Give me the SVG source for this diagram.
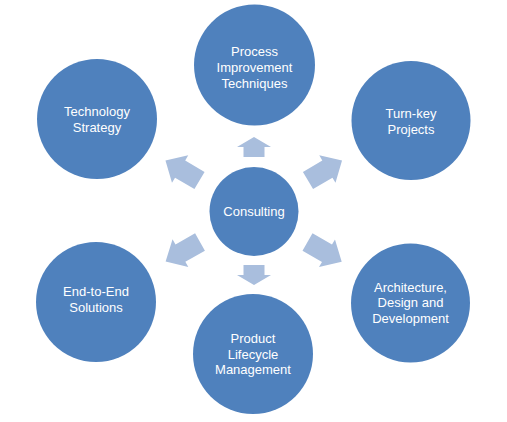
<svg xmlns="http://www.w3.org/2000/svg" width="507" height="422" viewBox="0 0 507 422">
<style>
.node{fill:#4F81BD}
.lbl{fill:#FFFFFF;font-family:"Liberation Sans",Arial,sans-serif;font-size:13px;text-anchor:middle}
.arr{fill:#A9BEDD}
</style>
<defs>
<path id="diag" d="M0,-10 L22.5,-10 L22.5,-16 L39.5,0 L22.5,16 L22.5,10 L0,10 Z"/>
<path id="vert" d="M-10.5,0 L-10.5,-10 L-17,-10 L0,-20 L17,-10 L10.5,-10 L10.5,0 Z"/>
</defs>
<rect width="507" height="422" fill="#FFFFFF"/>
<g id="connectors">
<use href="#vert" class="arr" transform="translate(254,157)"/>
<use href="#vert" class="arr" transform="translate(254,265) rotate(180)"/>
<use href="#diag" class="arr" transform="translate(308,180.5) rotate(-30.5)"/>
<use href="#diag" class="arr" transform="translate(199.5,180.5) rotate(-149.5)"/>
<use href="#diag" class="arr" transform="translate(200,242) rotate(150.5)"/>
<use href="#diag" class="arr" transform="translate(307.5,242) rotate(30)"/>
</g>
<g id="consulting">
<circle class="node" cx="254" cy="211.5" r="44.5"/>
<text class="lbl" x="254" y="216">Consulting</text>
</g>
<g id="process">
<circle class="node" cx="254.5" cy="65" r="60.5"/>
<text class="lbl" x="254.5" y="56">Process</text>
<text class="lbl" x="254.5" y="72">Improvement</text>
<text class="lbl" x="254.5" y="87.5">Techniques</text>
</g>
<g id="turnkey">
<circle class="node" cx="411" cy="120.5" r="59.5"/>
<text class="lbl" x="411" y="118">Turn-key</text>
<text class="lbl" x="411" y="133.5">Projects</text>
</g>
<g id="architecture">
<circle class="node" cx="410.5" cy="303" r="59.5"/>
<text class="lbl" x="410.5" y="291.5">Architecture,</text>
<text class="lbl" x="410.5" y="307">Design and</text>
<text class="lbl" x="410.5" y="322.5">Development</text>
</g>
<g id="product">
<circle class="node" cx="253" cy="354" r="60"/>
<text class="lbl" x="253" y="343">Product</text>
<text class="lbl" x="253" y="358.5">Lifecycle</text>
<text class="lbl" x="253" y="374">Management</text>
</g>
<g id="endtoend">
<circle class="node" cx="96" cy="302" r="60"/>
<text class="lbl" x="96" y="296">End-to-End</text>
<text class="lbl" x="96" y="311.5">Solutions</text>
</g>
<g id="technology">
<circle class="node" cx="97" cy="119" r="60"/>
<text class="lbl" x="97" y="115.5">Technology</text>
<text class="lbl" x="97" y="131.5">Strategy</text>
</g>
</svg>
